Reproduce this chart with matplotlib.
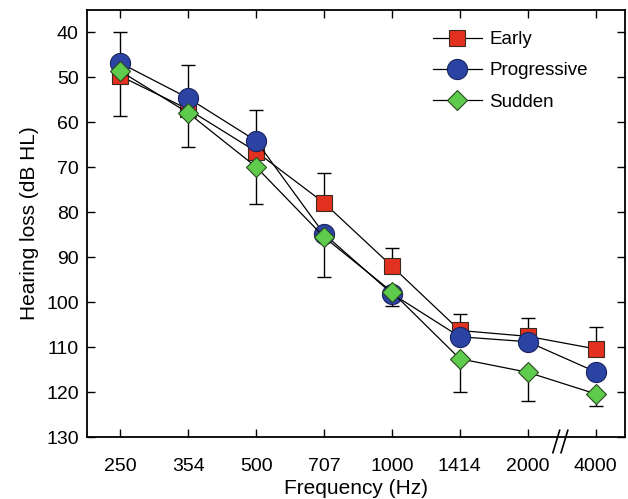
import matplotlib
matplotlib.use("Agg")
import matplotlib.pyplot as plt
import numpy as np

plt.rcParams['font.family'] = ['Liberation Sans', 'DejaVu Sans']

freqs = ['250', '354', '500', '707', '1000', '1414', '2000', '4000']
early = [49.7, 57.1, 66.5, 77.9, 92.0, 106.3, 107.6, 110.4]
progressive = [46.8, 54.6, 64.1, 84.8, 98.1, 107.7, 108.8, 115.5]
sudden = [48.6, 57.9, 69.9, 85.5, 97.7, 112.6, 115.6, 120.4]
# early has error bars upward, sudden downward
early_err = [9.7, 9.8, 9.2, 6.6, 4.1, 3.6, 4.1, 4.9]
sudden_err = [10.0, 7.6, 8.3, 9.0, 3.1, 7.4, 6.4, 2.7]

x = np.arange(len(freqs))

fig = plt.figure(figsize=(6.28, 4.99), dpi=100)
ax = fig.add_axes([0.1385, 0.1242, 0.8565, 0.8558])

ax.errorbar(x, early, yerr=[early_err, np.zeros(len(x))], fmt='none',
            ecolor='black', elinewidth=1, capsize=5, capthick=1, zorder=1)
ax.errorbar(x, sudden, yerr=[np.zeros(len(x)), sudden_err], fmt='none',
            ecolor='black', elinewidth=1, capsize=5, capthick=1, zorder=1)

ax.plot(x, early, '-', color='black', lw=0.9, marker='s', ms=11,
        mfc='#e2321f', mec='#3a2a20', mew=0.8, label='Early', zorder=3)
ax.plot(x, progressive, '-', color='black', lw=0.9, marker='o', ms=14.5,
        mfc='#2b44a3', mec='#1a2560', mew=0.8, label='Progressive', zorder=3)
ax.plot(x, sudden, '-', color='black', lw=0.9, marker='D', ms=10,
        mfc='#5fcb4c', mec='#2a4a20', mew=0.8, label='Sudden', zorder=4)

ax.set_xlim(-0.49, 7.43)
ax.set_ylim(130, 35)
ax.set_yticks(np.arange(40, 131, 10))
ax.set_xticks(x)
ax.set_xticklabels(freqs)

ax.tick_params(direction='in', length=6, width=1, labelsize=14,
               top=True, right=True)
ax.tick_params(axis='x', pad=15)
ax.tick_params(axis='y', pad=6)
for s in ax.spines.values():
    s.set_linewidth(1.3)

# axis break marks between 2000 and 4000
for dx in (-0.06, 0.06):
    ax.plot([6.48 + dx - 0.05, 6.48 + dx + 0.05], [133.5, 128.5],
            color='black', lw=1.2, clip_on=False, zorder=5)

ax.set_xlabel('Frequency (Hz)', fontsize=15, labelpad=3)
ax.set_ylabel('Hearing loss (dB HL)', fontsize=15, labelpad=5)

ax.legend(loc='upper right', bbox_to_anchor=(0.962, 0.99), frameon=False,
          fontsize=13.5, handlelength=2.6, labelspacing=0.75, handletextpad=0.4)

fig.savefig('out.png', dpi=100)
